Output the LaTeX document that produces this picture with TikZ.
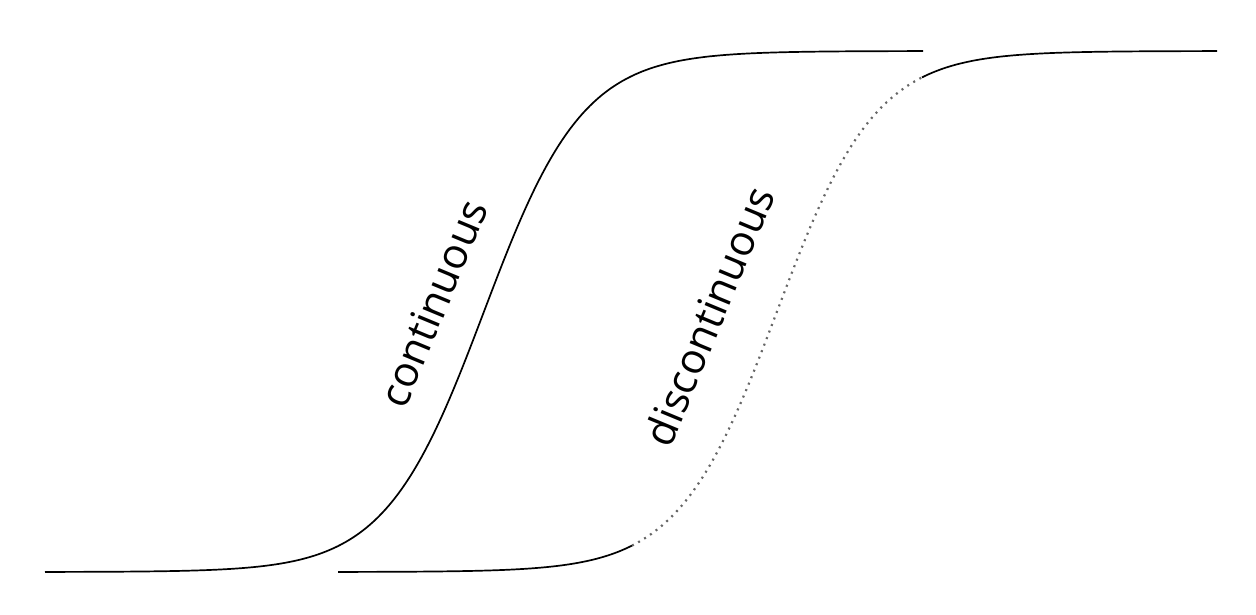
\documentclass[tikz,border=0pt]{standalone}
\usepackage{fontspec}
\setmainfont{Open Sans}
\begin{document}
\begin{tikzpicture}[x=1pt,y=-1pt,
  curve/.style={line width=1.7pt,black},
  dotcurve/.style={line width=2.2pt,black!60,dash pattern=on 2pt off 5pt},
  lbl/.style={font=\fontsize{42}{50}\selectfont,rotate=67.5,anchor=base,inner sep=0pt}]
\useasboundingbox (0,0) rectangle (1256,614);
% continuous curve
\draw[curve] plot[domain=45:923,samples=220] (\x,{572-521/(1+exp(-0.0202*(\x-484)))});
% discontinuous curve
\draw[curve] plot[domain=338:632,samples=80] (\x,{572-521/(1+exp(-0.0202*(\x-777)))});
\draw[dotcurve] plot[domain=632:922,samples=120] (\x,{572-521/(1+exp(-0.0202*(\x-777)))});
\draw[curve] plot[domain=922:1217,samples=80] (\x,{572-521/(1+exp(-0.0202*(\x-777)))});
\node[lbl] (cont) at (447,309) {continuous};
\node[lbl] (disc) at (723,322) {discontinuous};
\end{tikzpicture}
\end{document}
